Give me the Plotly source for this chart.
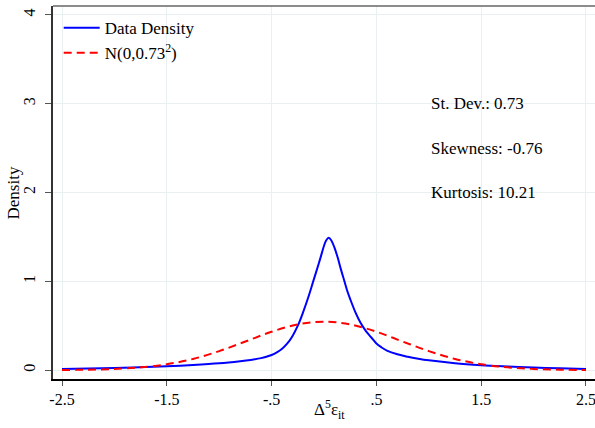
import plotly.graph_objects as go

# values
data_x = [-2.5, -2.0, -1.5, -1.25, -1.0, -0.8, -0.7, -0.6, -0.55, -0.5, -0.45, -0.4, -0.35, -0.3,
          -0.25, -0.2, -0.15, -0.1, -0.05, -0.02, 0.0, 0.02, 0.045, 0.07, 0.1,
          0.13, 0.16, 0.19, 0.22, 0.25, 0.3, 0.35, 0.4, 0.45, 0.5, 0.55, 0.6, 0.7, 0.8, 0.9,
          1.0, 1.25, 1.5, 1.75, 2.0, 2.25, 2.5]
data_density = [0.012, 0.025, 0.043, 0.057, 0.076, 0.1, 0.115, 0.135, 0.15, 0.17, 0.2, 0.24, 0.3, 0.385,
                0.5, 0.65, 0.82, 1.01, 1.2, 1.32, 1.4, 1.46, 1.49, 1.46, 1.38,
                1.27, 1.14, 1.02, 0.9, 0.8, 0.65, 0.53, 0.44, 0.37, 0.3, 0.255, 0.22, 0.178, 0.15, 0.128,
                0.11, 0.077, 0.056, 0.042, 0.03, 0.02, 0.012]

normal_x = [-2.5, -2.25, -2.0, -1.75, -1.5, -1.25, -1.0, -0.75, -0.5, -0.25, 0.0,
            0.25, 0.5, 0.75, 1.0, 1.25, 1.5, 1.75, 2.0, 2.25, 2.5]
normal_density = [0.002, 0.005, 0.013, 0.031, 0.066, 0.126, 0.214, 0.322, 0.432, 0.515, 0.546,
                  0.515, 0.432, 0.322, 0.214, 0.126, 0.066, 0.031, 0.013, 0.005, 0.002]

x_ticks = [-2.5, -1.5, -0.5, 0.5, 1.5, 2.5]
x_labels = ['-2.5', '-1.5', '-.5', '.5', '1.5', '2.5']
y_ticks = [0, 1, 2, 3, 4]

stats_text = ['St. Dev.: 0.73', 'Skewness: -0.76', 'Kurtosis: 10.21']
stats_y = [3, 2.5, 2]

serif = 'Times New Roman'
grid = '#e8f0f2'

fig = go.Figure()
fig.add_trace(go.Scatter(x=data_x, y=data_density, mode='lines', name='Data Density',
                         line=dict(color='#0000ff', width=2, shape='spline')))
fig.add_trace(go.Scatter(x=normal_x, y=normal_density, mode='lines', name='N(0,0.73<sup>2</sup>)',
                         line=dict(color='#ff0000', width=2, dash='8px,5px', shape='spline')))

for txt, yy in zip(stats_text, stats_y):
    fig.add_annotation(x=1.0, y=yy, text=txt, showarrow=False, xanchor='left', yanchor='middle',
                       font=dict(family=serif, size=17, color='black'))

# axis titles
fig.add_annotation(x=0.511, y=-0.083, xref='paper', yref='paper', showarrow=False,
                   text='Δ<sup>5</sup>ε<sub>it</sub>', xanchor='center', yanchor='middle',
                   font=dict(family=serif, size=17, color='black'))
fig.add_annotation(x=-0.072, y=0.5, xref='paper', yref='paper', showarrow=False,
                   text='Density', textangle=-90, xanchor='center', yanchor='middle',
                   font=dict(family=serif, size=17, color='black'))

fig.update_layout(
    width=595, height=428,
    margin=dict(l=53, r=0, t=6, b=49, autoexpand=False),
    plot_bgcolor='white', paper_bgcolor='white',
    font=dict(family=serif, color='black'),
    showlegend=True,
    legend=dict(x=0.0105, y=0.989, xanchor='left', yanchor='top', bgcolor='rgba(0,0,0,0)',
                font=dict(family=serif, size=17), tracegroupgap=0, itemwidth=36),
    xaxis=dict(range=[-2.586, 2.586], tickvals=x_ticks, ticktext=x_labels,
               showgrid=True, gridcolor=grid, zeroline=False, automargin=False,
               showline=True, linecolor='black', linewidth=1.5,
               ticks='outside', ticklen=5, tickcolor='#555', tickfont=dict(size=16),
               ticklabeloverflow='allow'),
    yaxis=dict(range=[-0.1, 4.1], tickvals=y_ticks, tickangle=-90,
               showgrid=True, gridcolor=grid, zeroline=False, automargin=False,
               showline=True, linecolor='#333', linewidth=1.5,
               ticks='outside', ticklen=6, tickcolor='#555', tickfont=dict(size=16),
               ticklabelstandoff=4),
)
fig.add_shape(type='line', xref='paper', yref='paper', x0=0, x1=1, y0=1, y1=1,
              line=dict(color='#666', width=1.5))

# drop the browser's default page margin so the figure sits at the top-left corner
fig.write_html("out.html", config={'displayModeBar': False},
               post_script="document.body.style.margin='0';")
